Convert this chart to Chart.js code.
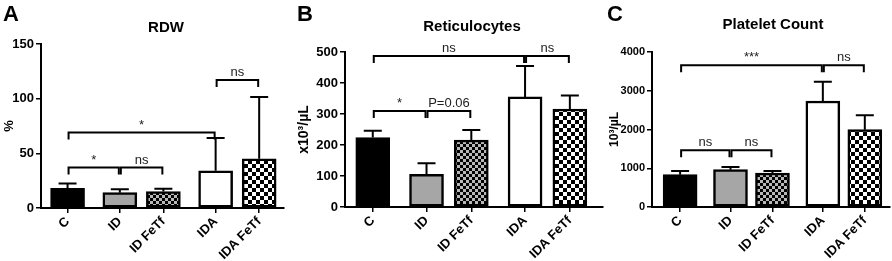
<!DOCTYPE html>
<html>
<head>
<meta charset="utf-8">
<script src="https://cdn.jsdelivr.net/npm/chart.js@4.4.1/dist/chart.umd.min.js"></script>
<style>
    html, body { margin: 0; padding: 0; background: #fff; }
    #wrap { position: relative; width: 892px; height: 261px; overflow: hidden; }
    canvas { position: absolute; top: 0; }
</style>
</head>
<body>
<div id="wrap">
    <canvas id="rdwChart" width="295" height="261" style="left:0px"></canvas>
    <canvas id="retiChart" width="315" height="261" style="left:295px"></canvas>
    <canvas id="plateletChart" width="297" height="261" style="left:595px"></canvas>
</div>
<script>
// Groups (x positions leave a gap between the ID and IDA groups)
const categories = ['C', 'ID', 'ID FeTf', 'IDA', 'IDA FeTf'];
const groupPositions = [0, 1.2, 2.2, 3.4, 4.4];

// Panel A - RDW (%)
const rdwMeans = [18, 14, 15, 34, 45];
const rdwErrors = [4.5, 3.1, 2.6, 30, 56.5];
const rdwBrackets = [
    { from: 0, to: 3, level: 69, label: '*' },
    { from: 0, to: 1, level: 37, label: '*' },
    { from: 1, to: 2, level: 37, label: 'ns' },
    { from: 3, to: 4, level: 117, label: 'ns' }
];

// Panel B - Reticulocytes (x10^3/uL)
const retiMeans = [224, 105, 216, 355, 316];
const retiErrors = [22, 36, 32, 100, 44];
const retiBrackets = [
    { from: 0, to: 3, level: 487, label: 'ns' },
    { from: 3, to: 4, level: 487, label: 'ns' },
    { from: 0, to: 1, level: 310, label: '*' },
    { from: 1, to: 2, level: 310, label: 'P=0.06' }
];

// Panel C - Platelet count (10^3/uL)
const plateletMeans = [834, 963, 877, 2735, 1996];
const plateletErrors = [95, 69, 52, 500, 370];
const plateletBrackets = [
    { from: 0, to: 3, level: 3657, label: '***' },
    { from: 3, to: 4, level: 3657, label: 'ns' },
    { from: 0, to: 1, level: 1463, label: 'ns' },
    { from: 1, to: 2, level: 1463, label: 'ns' }
];

const FONT = '"Liberation Sans", Arial, sans-serif';

function checker(size, dark, light) {
    const c = document.createElement('canvas');
    c.width = c.height = size * 2;
    const g = c.getContext('2d');
    g.fillStyle = light;
    g.fillRect(0, 0, size * 2, size * 2);
    g.fillStyle = dark;
    g.fillRect(0, 0, size, size);
    g.fillRect(size, size, size, size);
    return g.createPattern(c, 'repeat');
}

const barFills = ['#000000', '#a6a6a6', checker(3, '#000', '#b8b8b8'), '#ffffff', checker(4, '#000', '#fff')];

// Error bars, significance brackets, panel letter and title
const panelDecor = {
    id: 'panelDecor',
    afterDatasetsDraw(chart, args, opts) {
        const { ctx } = chart;
        const x = chart.scales.x;
        const y = chart.scales.y;
        const meta = chart.getDatasetMeta(0);
        ctx.save();
        ctx.strokeStyle = '#000';
        ctx.lineWidth = 2;

        meta.data.forEach((bar, i) => {
            const top = y.getPixelForValue(opts.means[i] + opts.errors[i]);
            ctx.beginPath();
            ctx.moveTo(bar.x, bar.y);
            ctx.lineTo(bar.x, top);
            ctx.moveTo(bar.x - 9, top);
            ctx.lineTo(bar.x + 9, top);
            ctx.stroke();
        });

        ctx.font = '13px ' + FONT;
        ctx.fillStyle = '#222';
        ctx.textAlign = 'center';
        ctx.textBaseline = 'alphabetic';
        opts.brackets.forEach(b => {
            const x0 = x.getPixelForValue(groupPositions[b.from]) + 1;
            const x1 = x.getPixelForValue(groupPositions[b.to]) - 1;
            const yy = y.getPixelForValue(b.level);
            ctx.beginPath();
            ctx.moveTo(x0, yy + 7);
            ctx.lineTo(x0, yy);
            ctx.lineTo(x1, yy);
            ctx.lineTo(x1, yy + 7);
            ctx.stroke();
            ctx.fillText(b.label, (x0 + x1) / 2, yy - 4);
        });
        ctx.restore();
    },
    afterDraw(chart, args, opts) {
        const { ctx } = chart;
        ctx.save();
        ctx.fillStyle = '#000';
        ctx.textBaseline = 'alphabetic';
        ctx.textAlign = 'left';
        ctx.font = 'bold 22px ' + FONT;
        ctx.fillText(opts.letter, opts.letterX, 21);
        ctx.textAlign = 'center';
        ctx.textBaseline = 'middle';
        ctx.font = 'bold 15px ' + FONT;
        ctx.fillText(opts.title, opts.titleX, opts.titleY);
        ctx.restore();
    }
};

function buildPanel(canvasId, panel) {
    return new Chart(document.getElementById(canvasId), {
        type: 'bar',
        data: {
            datasets: [{
                data: panel.means.map((v, i) => ({ x: groupPositions[i], y: v })),
                backgroundColor: barFills,
                borderColor: '#000',
                borderWidth: 2.5,
                borderSkipped: false,
                barThickness: 34
            }]
        },
        options: {
            responsive: false,
            animation: false,
            events: [],
            layout: { padding: { top: panel.padTop, right: panel.padRight, left: 0, bottom: 0 } },
            plugins: {
                legend: { display: false },
                tooltip: { enabled: false },
                panelDecor: {
                    letter: panel.letter,
                    letterX: panel.letterX,
                    title: panel.title,
                    titleX: panel.titleX,
                    titleY: panel.titleY,
                    means: panel.means,
                    errors: panel.errors,
                    brackets: panel.brackets
                }
            },
            scales: {
                x: {
                    type: 'linear',
                    min: panel.xMin,
                    max: panel.xMax,
                    offset: false,
                    afterBuildTicks: scale => {
                        scale.ticks = groupPositions.map(v => ({ value: v }));
                    },
                    afterFit: scale => { scale.height = panel.xHeight; },
                    ticks: {
                        autoSkip: false,
                        minRotation: 45,
                        maxRotation: 45,
                        padding: 1,
                        color: '#000',
                        font: { family: FONT, size: 13, weight: 'bold' },
                        callback: (value, index) => categories[index]
                    },
                    grid: {
                        offset: false,
                        drawOnChartArea: false,
                        drawTicks: true,
                        tickLength: 5,
                        color: '#000',
                        lineWidth: 1.5
                    },
                    border: { display: true, color: '#000', width: 2 }
                },
                y: {
                    min: 0,
                    max: panel.yMax,
                    afterFit: scale => { scale.width = panel.yWidth; },
                    ticks: {
                        stepSize: panel.yStep,
                        padding: 2,
                        color: '#000',
                        font: { family: FONT, size: panel.tickSize, weight: 'bold' },
                        callback: value => String(value)
                    },
                    grid: {
                        drawOnChartArea: false,
                        drawTicks: true,
                        tickLength: 5,
                        color: '#000',
                        lineWidth: 1.5
                    },
                    border: { display: true, color: '#000', width: 2 },
                    title: {
                        display: true,
                        text: panel.yTitle,
                        color: '#000',
                        font: { family: FONT, size: panel.yTitleSize, weight: 'bold' },
                        padding: { top: panel.yTitlePad, bottom: 0 }
                    }
                }
            }
        },
        plugins: [panelDecor]
    });
}

buildPanel('rdwChart', {
    letter: 'A', letterX: 3, title: 'RDW', titleX: 166, titleY: 28,
    means: rdwMeans, errors: rdwErrors, brackets: rdwBrackets,
    yMax: 150, yStep: 50, yTitle: '%', yTitleSize: 13, yTitlePad: 2, tickSize: 13,
    xMin: -0.61, xMax: 4.97, yWidth: 41, xHeight: 53, padTop: 44, padRight: 11
});

buildPanel('retiChart', {
    letter: 'B', letterX: 2, title: 'Reticulocytes', titleX: 177, titleY: 27,
    means: retiMeans, errors: retiErrors, brackets: retiBrackets,
    yMax: 500, yStep: 100, yTitle: 'x10³/µL', yTitleSize: 14, yTitlePad: 1, tickSize: 13,
    xMin: -0.62, xMax: 5.14, yWidth: 50, xHeight: 54, padTop: 52, padRight: 7
});

buildPanel('plateletChart', {
    letter: 'C', letterX: 12, title: 'Platelet Count', titleX: 178, titleY: 25,
    means: plateletMeans, errors: plateletErrors, brackets: plateletBrackets,
    yMax: 4000, yStep: 1000, yTitle: '10³/µL', yTitleSize: 12, yTitlePad: 12, tickSize: 11,
    xMin: -0.67, xMax: 5.0, yWidth: 57, xHeight: 54, padTop: 52, padRight: 2
});
</script>
</body>
</html>
